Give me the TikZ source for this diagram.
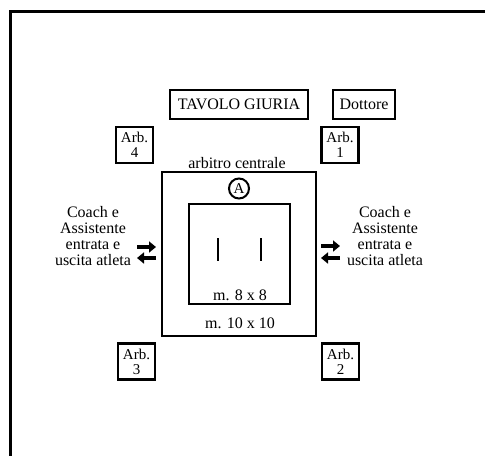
\documentclass[tikz,border=0pt]{standalone}
\usepackage{fontspec}
\setmainfont{Liberation Serif}
\usetikzlibrary{arrows.meta}
\begin{document}
\begin{tikzpicture}[x=1pt,y=-1pt,
  txt/.style={font=\fontsize{16}{16.2}\selectfont, inner sep=0pt, align=center},
  boxed/.style={txt, draw, line width=2.4pt},
  arbbox/.style={boxed, minimum width=37pt, minimum height=36pt, font=\fontsize{15}{15.2}\selectfont},
  frame/.style={line width=3pt},
  field/.style={line width=2.4pt},
  bigarrow/.style={line width=3.6pt, -{Triangle[length=7pt,width=11pt]}}
]
\useasboundingbox (0,0) rectangle (485,456);
% outer frame (top and left)
\coordinate (ftr) at (485,11);
\coordinate (ftl) at (10,11);
\coordinate (fbl) at (10,456);
\draw[frame] (ftr) -- (ftl) -- (fbl);

\node[boxed, minimum width=138pt, minimum height=29pt] (giuria) at (239,104.5) {TAVOLO GIURIA};
\node[boxed, minimum width=62pt, minimum height=29pt] (dottore) at (364,104.5) {Dottore};

\node[arbbox] (arb4) at (134.5,145) {Arb.\\4};
\node[arbbox] (arb1) at (340,145) {Arb.\\1};
\node[arbbox] (arb3) at (136.5,361.5) {Arb.\\3};
\node[arbbox] (arb2) at (340.5,361.5) {Arb.\\2};

\node[txt] (centrale) at (237,163) {arbitro centrale};

% 10x10 area
\coordinate (o1) at (162,172);
\coordinate (o2) at (316,336);
\draw[field] (o1) rectangle (o2);
% 8x8 area
\coordinate (i1) at (189,204);
\coordinate (i2) at (290,304);
\draw[field] (i1) rectangle (i2);

\node[circle, draw, line width=2pt, minimum size=20pt, inner sep=0pt, font=\fontsize{15}{15}\selectfont] (arbA) at (239,188.5) {A};

\coordinate (b1t) at (218,238); \coordinate (b1b) at (218,261);
\coordinate (b2t) at (261,238); \coordinate (b2b) at (261,261);
\draw[line width=2.6pt] (b1t) -- (b1b);
\draw[line width=2.6pt] (b2t) -- (b2b);

\node[txt] (m8) at (240,295) {m. 8 x 8};
\node[txt] (m10) at (240,323) {m. 10 x 10};

\node[txt] (coachL) at (93,236) {Coach e\\Assistente\\entrata e\\uscita atleta};
\node[txt] (coachR) at (385,236) {Coach e\\Assistente\\entrata e\\uscita atleta};

% left arrows
\coordinate (la1) at (137,247); \coordinate (la2) at (156,247);
\coordinate (lb1) at (156,258); \coordinate (lb2) at (137,258);
\draw[bigarrow] (la1) -- (la2);
\draw[bigarrow] (lb1) -- (lb2);
% right arrows
\coordinate (ra1) at (321,246); \coordinate (ra2) at (340,246);
\coordinate (rb1) at (340,258); \coordinate (rb2) at (321,258);
\draw[bigarrow] (ra1) -- (ra2);
\draw[bigarrow] (rb1) -- (rb2);
\end{tikzpicture}
\end{document}
